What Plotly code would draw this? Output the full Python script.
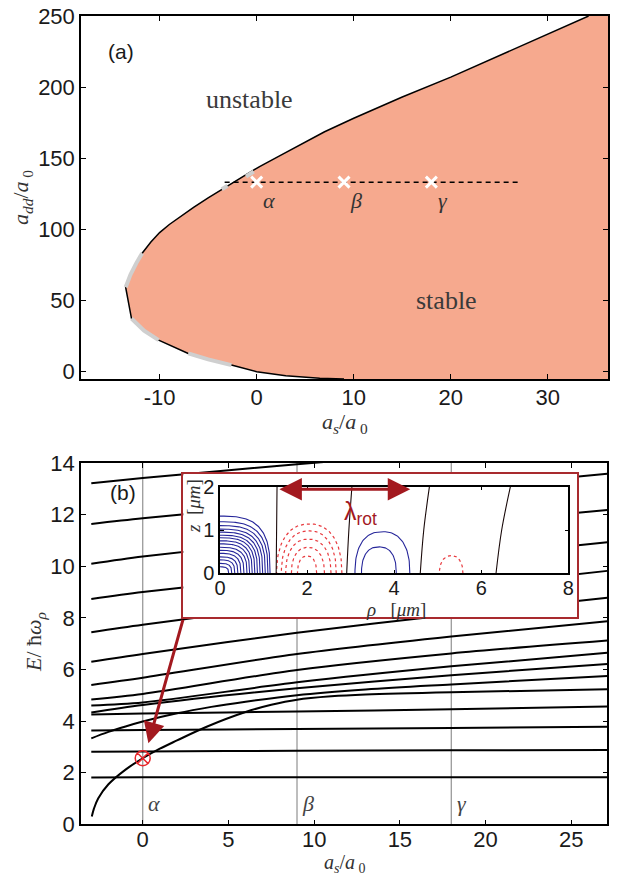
import numpy as np
import plotly.graph_objects as go

W, H = 623, 877

# ---------------- panel (a) data ----------------
X1_RANGE = [-18.1, 36.2]
Y1_RANGE = [-5.6, 250]
X1_TICKS = [-10, 0, 10, 20, 30]
Y1_TICKS = [0, 50, 100, 150, 200, 250]

BOUND_X = [9.0, 6.5, 3.0, 0.0, -2.6, -5.0, -7.05, -10.1, -11.6, -12.9, -13.2, -13.5,
           -13.0, -12.4, -11.8, -10.9, -10.0, -9.0, -8.0, -6.5, -5.0, -3.5, -1.5, 0.3,
           2.5, 4.5, 7.0, 10.0, 15.0, 20.0, 25.0, 30.0, 34.2]
BOUND_Y = [-5.6, -5.0, -3.3, -0.5, 4.2, 8.2, 12.4, 21.8, 28.5, 37.0, 48.0, 59.0,
           68.0, 76.0, 83.0, 90.8, 97.5, 103.2, 108.2, 115.3, 121.9, 128.3, 136.8, 144.0,
           152.0, 159.5, 168.5, 178.0, 193.0, 207.0, 222.0, 237.0, 250.0]

GRAY_X = [[-7.05, -5.0, -2.6], [-12.9, -11.6, -10.1], [-13.5, -13.0, -12.4, -11.8],
          [-3.6, -3.0], [-1.1, -0.3]]
GRAY_Y = [[12.4, 8.2, 4.2], [37.0, 28.5, 21.8], [59.0, 68.0, 76.0, 83.0],
          [128.0, 130.5], [137.0, 140.5]]

AS_POINTS = [0, 9, 18]
POINT_LABELS = ["α", "β", "γ"]
ADD_POINT = 133
DASH_X = [-3.3, 27.2]

# ---------------- panel (b) data ----------------
X2_RANGE = [-3.6, 27.1]
Y2_RANGE = [0, 14]
X2_TICKS = [0, 5, 10, 15, 20, 25]
Y2_TICKS = [0, 2, 4, 6, 8, 10, 12, 14]

EX = [-3.0, 0.0, 9.0, 18.0, 27.1]
E_LINES = [
    [13.22, 13.42, 13.95, 14.45, 14.90],
    [11.64, 11.86, 12.42, 13.00, 13.58],
    [10.10, 10.38, 11.03, 11.62, 12.18],
    [8.73, 9.00, 9.66, 10.30, 10.93],
    [7.44, 7.73, 8.50, 9.15, 9.82],
    [6.30, 6.60, 7.42, 8.12, 8.78],
    [5.40, 5.68, 6.60, 7.28, 7.87],
    [4.84, 5.05, 5.98, 6.62, 7.12],
    [4.60, 4.72, 5.50, 6.12, 6.65],
    [4.33, 4.62, 5.27, 5.78, 6.21],
    [4.25, 4.29, 4.37, 4.46, 4.56],
    [3.63, 3.65, 3.69, 3.73, 3.78],
    [2.81, 2.82, 2.85, 2.87, 2.88],
    [1.81, 1.82, 1.82, 1.82, 1.82],
]
C1_X = [-3.0, -2.0, -1.0, 0.0, 2.0, 4.0, 6.0, 9.0, 13.0, 18.0, 27.1]
C1_Y = [3.33, 3.58, 3.79, 3.98, 4.30, 4.55, 4.75, 5.00, 5.22, 5.42, 5.75]
C2_X = [-2.97, -2.85, -2.6, -2.0, -1.0, 0.0, 1.0, 2.0, 3.73, 6.0, 7.5, 9.0, 11.0, 13.0, 18.0, 27.1]
C2_Y = [0.30, 0.60, 1.00, 1.55, 2.12, 2.56, 2.93, 3.25, 3.78, 4.35, 4.63, 4.83, 4.96, 5.03, 5.12, 5.23]

MARK_X, MARK_Y = 0.0, 2.56
ARROW_TAIL = (2.37, 7.98)
ARROW_HEAD = (0.33, 3.14)

# ---------------- inset data ----------------
RHO_RANGE = [0, 8]
ZI_RANGE = [0, 2]
BLUE1_R = [1.15, 1.10, 1.04, 0.98, 0.92, 0.86, 0.80, 0.74, 0.68, 0.62, 0.55, 0.48, 0.41, 0.34, 0.27, 0.20]
BLUE1_Z = [1.32, 1.19, 1.10, 1.02, 0.95, 0.88, 0.82, 0.75, 0.68, 0.60, 0.53, 0.46, 0.38, 0.31, 0.23, 0.15]
RED2_C = [2.05, 2.04, 2.03, 2.02, 2.0]
RED2_HW = [0.75, 0.63, 0.52, 0.38, 0.22]
RED2_H = [1.14, 0.98, 0.79, 0.60, 0.40]
BLUE3_C = [3.73, 3.65]
BLUE3_HW = [0.63, 0.40]
BLUE3_H = [0.96, 0.61]
RED4_C = [5.31]
RED4_HW = [0.27]
RED4_H = [0.41]
NODE_R0 = [1.29, 2.91, 4.60, 6.34]
NODE_R1 = [1.30, 2.96, 4.68, 6.47]
NODE_R2 = [1.31, 3.03, 4.81, 6.67]
LAMBDA_RHO = [1.33, 4.37]
LAMBDA_Z = 1.94


def px_x(p):
    return p / W


def px_y(p):
    return 1 - p / H


def dome(cs, hws, hs, pw, quarter=False, n=70):
    xs, ys = [], []
    for c, hw, h in zip(cs, hws, hs):
        t = np.linspace(0, np.pi / 2 if quarter else np.pi, n)
        ct, st = np.cos(t), np.sin(t)
        xs += list(c + hw * np.sign(ct) * np.abs(ct) ** (2 / pw)) + [None]
        ys += list(h * np.abs(st) ** (2 / pw)) + [None]
    return xs, ys


SALMON = "#f6a98e"
DARKRED = "#a3191f"
fig = go.Figure()

# ---- panel (a) ----
fx = BOUND_X + [X1_RANGE[1], X1_RANGE[1]]
fy = BOUND_Y + [Y1_RANGE[1], Y1_RANGE[0]]
fig.add_trace(go.Scatter(x=fx, y=fy, fill="toself", fillcolor=SALMON, mode="none",
                         xaxis="x", yaxis="y", hoverinfo="skip"))
fig.add_trace(go.Scatter(x=BOUND_X, y=BOUND_Y, mode="lines", line=dict(color="black", width=1.5),
                         xaxis="x", yaxis="y"))
gx, gy = [], []
for a, b in zip(GRAY_X, GRAY_Y):
    gx += a + [None]
    gy += b + [None]
fig.add_trace(go.Scatter(x=gx, y=gy, mode="lines", line=dict(color="#cfcfcf", width=4),
                         xaxis="x", yaxis="y"))
fig.add_trace(go.Scatter(x=DASH_X, y=[ADD_POINT, ADD_POINT], mode="lines",
                         line=dict(color="black", width=1.5, dash="5px,4px"), xaxis="x", yaxis="y"))
fig.add_trace(go.Scatter(x=AS_POINTS, y=[ADD_POINT] * len(AS_POINTS), mode="markers",
                         marker=dict(symbol="x-thin", size=11, line=dict(color="white", width=3)),
                         xaxis="x", yaxis="y"))

# ---- panel (b) ----
for v in AS_POINTS:
    fig.add_trace(go.Scatter(x=[v, v], y=Y2_RANGE, mode="lines", line=dict(color="#9a9a9a", width=1.3),
                             xaxis="x2", yaxis="y2"))
for row in E_LINES:
    fig.add_trace(go.Scatter(x=EX, y=row, mode="lines", line=dict(color="black", width=2, shape="spline", smoothing=0.8),
                             xaxis="x2", yaxis="y2"))
for cx, cy in [(C1_X, C1_Y), (C2_X, C2_Y)]:
    fig.add_trace(go.Scatter(x=cx, y=cy, mode="lines", line=dict(color="black", width=2, shape="spline", smoothing=1.0),
                             xaxis="x2", yaxis="y2"))
fig.add_trace(go.Scatter(x=[MARK_X], y=[MARK_Y], mode="markers",
                         marker=dict(symbol="circle-x-open", size=15, color="#e8262b", line=dict(width=1.5, color="#e8262b")),
                         xaxis="x2", yaxis="y2"))

# ---- inset outer box (x3/y3) ----
fig.add_trace(go.Scatter(x=[0.5], y=[0.5], mode="markers", marker=dict(opacity=0), xaxis="x3", yaxis="y3"))

# ---- inset inner plot (x4/y4) ----
bx, by = dome([0] * len(BLUE1_R), BLUE1_R, BLUE1_Z, 3.0, quarter=True)
b3x, b3y = dome(BLUE3_C, BLUE3_HW, BLUE3_H, 2.4)
fig.add_trace(go.Scatter(x=bx + b3x, y=by + b3y, mode="lines", line=dict(color="#26269a", width=1.1),
                         xaxis="x4", yaxis="y4"))
r2x, r2y = dome(RED2_C, RED2_HW, RED2_H, 2.3)
r4x, r4y = dome(RED4_C, RED4_HW, RED4_H, 2.2)
fig.add_trace(go.Scatter(x=r2x + r4x, y=r2y + r4y, mode="lines", line=dict(color="#e8383d", width=1.2, dash="dot"),
                         xaxis="x4", yaxis="y4"))
nx, ny = [], []
for a, b, c in zip(NODE_R0, NODE_R1, NODE_R2):
    nx += [a, b, c, None]
    ny += [ZI_RANGE[0], 1, ZI_RANGE[1], None]
fig.add_trace(go.Scatter(x=nx, y=ny, mode="lines", line=dict(color="#1a0a0a", width=1.1, shape="spline"),
                         xaxis="x4", yaxis="y4"))

# ---- axes ----
tickfont = dict(family="Liberation Sans, Arial, sans-serif", size=22, color="#1a1a1a")
common = dict(showline=True, linecolor="black", linewidth=1.5, mirror="ticks", ticks="inside",
              ticklen=5, tickwidth=1, tickcolor="black", showgrid=False, zeroline=False,
              tickfont=tickfont, automargin=False)

fig.update_layout(
    width=W, height=H, margin=dict(l=0, r=0, t=0, b=0, autoexpand=False),
    paper_bgcolor="white", plot_bgcolor="white", showlegend=False,
    xaxis=dict(common, domain=[px_x(81), px_x(608)], range=X1_RANGE, tickvals=X1_TICKS,
               ticktext=[str(v) for v in X1_TICKS], anchor="y", ticklabelstandoff=-2),
    yaxis=dict(common, domain=[px_y(379), px_y(16)], range=Y1_RANGE, tickvals=Y1_TICKS,
               ticktext=[str(v) for v in Y1_TICKS], anchor="x", ticklabelstandoff=0),
    xaxis2=dict(common, domain=[px_x(81), px_x(607.3)], range=X2_RANGE, tickvals=X2_TICKS,
                ticktext=[str(v) for v in X2_TICKS], anchor="y2", ticklabelstandoff=-5),
    yaxis2=dict(common, domain=[px_y(824.3), px_y(463)], range=Y2_RANGE, tickvals=Y2_TICKS,
                ticktext=[str(v) for v in Y2_TICKS], anchor="x2", ticklabelstandoff=0),
    xaxis3=dict(domain=[px_x(183.3), px_x(577.3)], range=[0, 1], showline=True, linecolor="#a82a2e",
                linewidth=1.5, mirror=True, ticks="", showticklabels=False, showgrid=False, zeroline=False,
                anchor="y3"),
    yaxis3=dict(domain=[px_y(617), px_y(474)], range=[0, 1], showline=True, linecolor="#a82a2e",
                linewidth=1.5, mirror=True, ticks="", showticklabels=False, showgrid=False, zeroline=False,
                anchor="x3"),
    xaxis4=dict(common, domain=[px_x(220), px_x(568.3)], range=RHO_RANGE, tickvals=[0, 2, 4, 6, 8],
                ticktext=["0", "2", "4", "6", "8"], anchor="y4", ticklen=4,
                tickfont=dict(tickfont, size=20), ticklabelstandoff=-4),
    yaxis4=dict(common, domain=[px_y(573.3), px_y(486.7)], range=ZI_RANGE, tickvals=[0, 1, 2],
                ticktext=["0", "1", "2"], anchor="x4", ticklen=4,
                tickfont=dict(tickfont, size=20), ticklabelstandoff=0),
)

serif = "Liberation Serif, Times New Roman, serif"
C = dict(xanchor="center", yanchor="middle", showarrow=False)
ann = []
# panel (a) texts
ann.append(dict(C, x=-14.0, y=225, xref="x", yref="y", text="(a)",
                font=dict(family="Liberation Sans, Arial", size=21, color="#1a1a1a")))
ann.append(dict(C, x=-0.7, y=191, xref="x", yref="y", text="unstable",
                font=dict(family=serif, size=26, color="#3a3a3a")))
ann.append(dict(C, x=19.6, y=50, xref="x", yref="y", text="stable",
                font=dict(family=serif, size=26, color="#3a3a3a")))
for v, lab in zip(AS_POINTS, POINT_LABELS):
    ann.append(dict(C, x=v, y=ADD_POINT, xref="x", yref="y", text="<i>%s</i>" % lab,
                    xshift=12, yshift=-18, font=dict(family=serif, size=22, color="#333")))
    ann.append(dict(C, x=v, y=0.81, xref="x2", yref="y2", text="<i>%s</i>" % lab,
                    xshift=11, font=dict(family=serif, size=22, color="#444")))
# panel (b)
ann.append(dict(C, x=-1.15, y=12.86, xref="x2", yref="y2", text="(b)",
                font=dict(family="Liberation Sans, Arial", size=21, color="#1a1a1a")))
ann.append(dict(x=ARROW_HEAD[0], y=ARROW_HEAD[1], ax=ARROW_TAIL[0], ay=ARROW_TAIL[1],
                xref="x2", yref="y2", axref="x2", ayref="y2", text="", showarrow=True,
                arrowhead=2, arrowsize=1.4, arrowwidth=3, arrowcolor=DARKRED))
# inset
ann.append(dict(x=LAMBDA_RHO[1], y=LAMBDA_Z, ax=LAMBDA_RHO[0], ay=LAMBDA_Z,
                xref="x4", yref="y4", axref="x4", ayref="y4", text="", showarrow=True,
                arrowhead=2, startarrowhead=2, arrowside="end+start", arrowsize=1.5, startarrowsize=1.5,
                arrowwidth=3, arrowcolor=DARKRED))
ann.append(dict(C, x=3.22, y=1.40, xref="x4", yref="y4", text="λ<sub>rot</sub>",
                font=dict(family="Liberation Sans, Arial", size=25, color=DARKRED)))
ann.append(dict(C, x=px_x(194), y=px_y(506), xref="paper", yref="paper", text="<i>z</i>  [<i>μm</i>]",
                textangle=-90, font=dict(family=serif, size=19, color="#333")))
ann.append(dict(C, x=px_x(396), y=px_y(609), xref="paper", yref="paper", text="<i>ρ</i>   [<i>μm</i>]",
                font=dict(family=serif, size=19, color="#333")))
# axis titles
ann.append(dict(C, x=px_x(345), y=px_y(423), xref="paper", yref="paper",
                text="<i>a<sub>s</sub></i>/<i>a</i><sub> 0</sub>",
                font=dict(family=serif, size=22, color="#333")))
ann.append(dict(C, x=px_x(22), y=px_y(198), xref="paper", yref="paper", textangle=-90,
                text="<i>a<sub>dd</sub></i>/<i>a</i><sub> 0</sub>",
                font=dict(family=serif, size=22, color="#333")))
ann.append(dict(C, x=px_x(345), y=px_y(863), xref="paper", yref="paper",
                text="<i>a<sub>s</sub></i>/<i>a</i><sub> 0</sub>",
                font=dict(family=serif, size=20, color="#333")))
ann.append(dict(C, x=px_x(35), y=px_y(642), xref="paper", yref="paper", textangle=-90,
                text="<i>E</i>/ ħ<i>ω<sub>ρ</sub></i>",
                font=dict(family=serif, size=22, color="#333")))
fig.update_layout(annotations=ann)

fig.write_html("out.html", config={"displayModeBar": False},
               post_script="document.body.style.margin='0px';document.body.style.overflow='hidden';")
